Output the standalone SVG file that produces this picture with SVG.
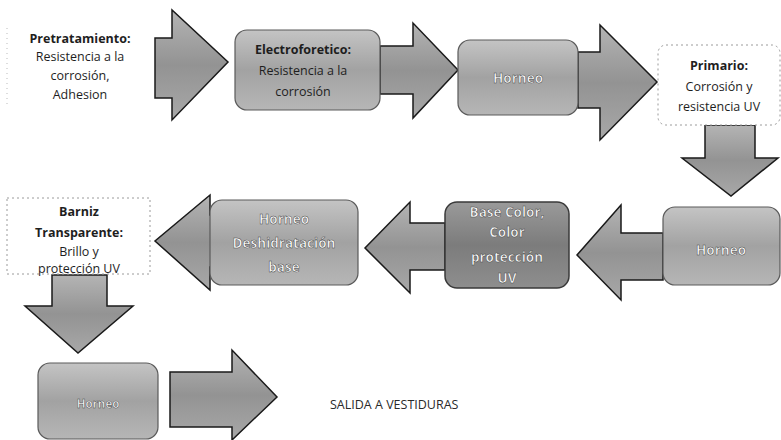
<svg xmlns="http://www.w3.org/2000/svg" width="781" height="440" viewBox="0 0 781 440">
<defs>
<linearGradient id="gA" x1="0" y1="0" x2="0" y2="1"><stop offset="0" stop-color="#b4b4b4"/><stop offset="0.5" stop-color="#939393"/><stop offset="1" stop-color="#a8a8a8"/></linearGradient>
<linearGradient id="gB" x1="0" y1="0" x2="0" y2="1"><stop offset="0" stop-color="#c4c4c4"/><stop offset="0.5" stop-color="#a2a2a2"/><stop offset="1" stop-color="#b6b6b6"/></linearGradient>
<linearGradient id="gD" x1="0" y1="0" x2="0" y2="1"><stop offset="0" stop-color="#9a9a9a"/><stop offset="0.5" stop-color="#7c7c7c"/><stop offset="1" stop-color="#8e8e8e"/></linearGradient>
</defs>
<style>
.arr{fill:url(#gA);stroke:#1a1a1a;stroke-width:1.5;stroke-linejoin:miter}
.box{fill:url(#gB);stroke:#5a5a5a;stroke-width:1.2}
.dark{fill:url(#gD);stroke:#3a3a3a;stroke-width:1.5}
.plain{fill:#ffffff;stroke:#9a9a9a;stroke-width:1;stroke-dasharray:2 3}
text{font-family:"Open Sans","Liberation Sans",sans-serif;font-size:12.5px;text-anchor:middle}
.b{font-weight:bold}
.dk{fill:#1e1e1e}
.wt{fill:#ffffff;font-weight:bold;font-size:13.5px;stroke:#444;stroke-width:0.5}
.out{fill:#2a2a2a;text-anchor:start;font-size:12.5px}
</style>
<g id="connectors">
<polygon class="arr" points="155,38 172,38 172,10 228,62 172,120 172,98 155,98"/>
<polygon class="arr" points="380,46 413,46 413,23 458,70 413,118 413,94 380,94"/>
<polygon class="arr" points="578,52 600,52 600,25 657,82 600,140 600,108 578,108"/>
<polygon class="arr" points="705,125 755,125 755,158 778,158 731,196 682,158 705,158"/>
<polygon class="arr" points="663,233 621,233 621,205 577,255 621,300 621,280 663,280"/>
<polygon class="arr" points="445,223 410,223 410,202 365,248 410,293 410,270 445,270"/>
<polygon class="arr" points="220,215 210,215 210,195 155,241 210,290 210,267 220,267"/>
<polygon class="arr" points="52,275 107,275 107,306 133,306 78,353 25,306 52,306"/>
<polygon class="arr" points="170,372 232,372 232,350 277,397 232,440 232,427 170,427"/>
</g>
<g id="n-pretratamiento">
<line x1="7" y1="28" x2="7" y2="104" stroke="#aaa" stroke-width="0.8" stroke-dasharray="1 4"/>
<text class="dk b" x="80" y="43">Pretratamiento:</text>
<text class="dk" x="80" y="61">Resistencia a la</text>
<text class="dk" x="80" y="80">corrosión,</text>
<text class="dk" x="80" y="99">Adhesion</text>
</g>
<g id="n-electroforetico">
<rect class="box" x="235" y="30" width="145" height="80" rx="12"/>
<text class="dk b" x="303" y="54">Electroforetico:</text>
<text class="dk" x="303" y="75">Resistencia a la</text>
<text class="dk" x="303" y="96">corrosión</text>
</g>
<g id="n-horneo1">
<rect class="box" x="458" y="40" width="120" height="75" rx="12"/>
<text class="wt" x="518" y="83">Horneo</text>
</g>
<g id="n-primario">
<rect class="plain" x="658" y="45" width="122" height="80" rx="8"/>
<text class="dk b" x="719" y="70">Primario:</text>
<text class="dk" x="719" y="91">Corrosión y</text>
<text class="dk" x="719" y="111">resistencia UV</text>
</g>
<g id="n-horneo2">
<rect class="box" x="663" y="207" width="117" height="78" rx="12"/>
<text class="wt" x="721" y="255">Horneo</text>
</g>
<g id="n-basecolor">
<rect class="dark" x="445" y="202" width="124" height="86" rx="12"/>
<text class="wt" x="507" y="217">Base Color,</text>
<text class="wt" x="507" y="237">Color</text>
<text class="wt" x="507" y="262">protección</text>
<text class="wt" x="507" y="283">UV</text>
</g>
<g id="n-horneo-deshidratacion">
<rect class="box" x="210" y="200" width="148" height="85" rx="12"/>
<text class="wt" x="284" y="224">Horneo</text>
<text class="wt" x="284" y="248">Deshidratación</text>
<text class="wt" x="284" y="272">base</text>
</g>
<g id="n-barniz">
<rect class="plain" x="7" y="198" width="143" height="76"/>
<text class="dk b" x="79" y="216">Barniz</text>
<text class="dk b" x="79" y="237">Transparente:</text>
<text class="dk" x="79" y="256">Brillo y</text>
<text class="dk" x="79" y="273">protección UV</text>
</g>
<g id="n-horneo3">
<rect class="box" x="38" y="363" width="120" height="76" rx="12"/>
<text class="wt" x="98" y="408" style="font-size:11.5px">Horneo</text>
</g>
<g id="n-salida">
<text class="out" x="330" y="409">SALIDA A VESTIDURAS</text>
</g>
</svg>
